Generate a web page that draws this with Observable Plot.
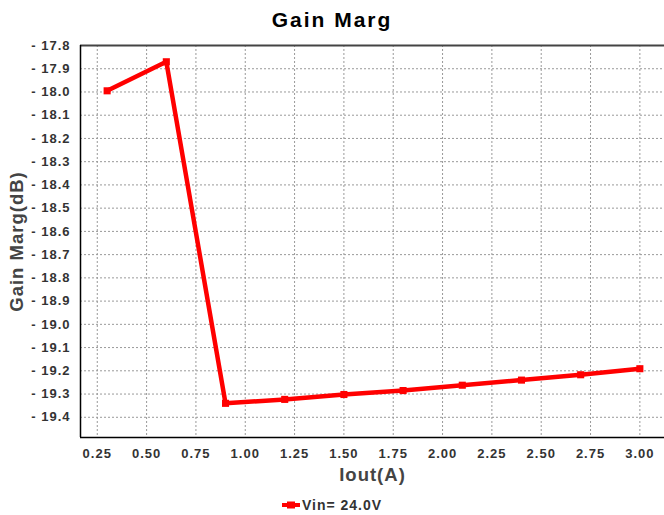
<!DOCTYPE html>
<html>
<head>
<meta charset="utf-8">
<script src="https://cdn.jsdelivr.net/npm/d3@7"></script>
<script src="https://cdn.jsdelivr.net/npm/@observablehq/plot@0.6"></script>
<style>
  html, body { margin: 0; padding: 0; background: #fff; overflow: hidden; }
  body { width: 664px; height: 515px; font-family: "Liberation Sans", Arial, sans-serif; }
  #title { width: 664px; height: 40px; line-height: 40px; text-align: center; font-size: 21px; font-weight: bold; letter-spacing: 2px; color: #000; }
  #chart svg { display: block; overflow: visible; }
  #chart svg text { letter-spacing: 1px; }
  #chart svg g[aria-label="axis-label"] text { letter-spacing: 2.2px; }
  #legend { width: 664px; height: 25px; display: flex; justify-content: center; align-items: center; padding-top: 2px; font-size: 14px; font-weight: bold; color: #333; letter-spacing: 1px; }
  #legend svg { margin-right: 2px; }
</style>
</head>
<body>
<div id="title">Gain Marg</div>
<div id="chart"></div>
<div id="legend"></div>
<script>
const seriesName = "Vin= 24.0V";
const iout = [0.3, 0.6, 0.9, 1.2, 1.5, 1.8, 2.1, 2.4, 2.7, 3.0];
const gain = [-17.995, -17.870, -19.340, -19.323, -19.302, -19.285, -19.262, -19.240, -19.217, -19.191];
const xTicks = [0.25, 0.5, 0.75, 1.0, 1.25, 1.5, 1.75, 2.0, 2.25, 2.5, 2.75, 3.0];
const yTicks = [-17.8, -17.9, -18.0, -18.1, -18.2, -18.3, -18.4, -18.5, -18.6, -18.7, -18.8, -18.9, -19.0, -19.1, -19.2, -19.3, -19.4];
const xDomain = [0.165, 3.135];
const yDomain = [-19.487, -17.8];
const xLabel = "Iout(A)";
const yLabel = "Gain Marg(dB)";

const data = iout.map((x, i) => ({x, y: gain[i]}));
const red = "#ff0000";

const chart = Plot.plot({
  width: 664,
  height: 450,
  marginLeft: 80,
  marginRight: 0,
  marginTop: 5,
  marginBottom: 53,
  style: {fontFamily: "'Liberation Sans', Arial, sans-serif", fontSize: "13px", fontWeight: "bold", color: "#333", background: "transparent"},
  x: {domain: xDomain, range: [80, 666], ticks: xTicks, tickFormat: d => d.toFixed(2), tickSize: 0, tickPadding: 11, label: null},
  y: {domain: yDomain, ticks: yTicks, tickFormat: d => "- " + Math.abs(d).toFixed(1), tickSize: 0, tickPadding: 10, label: null},
  marks: [
    Plot.ruleY(yTicks, {stroke: "#999", strokeWidth: 1, strokeDasharray: "2,2"}),
    Plot.ruleX(xTicks, {stroke: "#999", strokeWidth: 1, strokeDasharray: "2,2"}),
    Plot.ruleY([yDomain[1]], {stroke: "#444", strokeWidth: 2}),
    Plot.ruleY([yDomain[0]], {stroke: "#000", strokeWidth: 1.5}),
    Plot.ruleX([xDomain[0]], {stroke: "#000", strokeWidth: 1.5}),
    Plot.line(data, {x: "x", y: "y", stroke: red, strokeWidth: 4.5, strokeLinejoin: "miter"}),
    Plot.dot(data, {x: "x", y: "y", symbol: "square", r: 4, fill: red, stroke: "none"}),
    Plot.text([xLabel], {frameAnchor: "bottom", dy: 38, textAnchor: "middle", lineAnchor: "middle", fontSize: 18.5, fontWeight: "bold", fill: "#444", ariaLabel: "axis-label"}),
    Plot.text([yLabel], {frameAnchor: "left", dx: -63, rotate: -90, textAnchor: "middle", lineAnchor: "middle", fontSize: 18.5, fontWeight: "bold", fill: "#444", ariaLabel: "axis-label"})
  ]
});
document.getElementById("chart").appendChild(chart);

// Legend
const legend = document.getElementById("legend");
const sw = d3.create("svg").attr("width", 18).attr("height", 10);
sw.append("line").attr("x1", 0).attr("x2", 18).attr("y1", 5).attr("y2", 5).attr("stroke", red).attr("stroke-width", 4);
sw.append("rect").attr("x", 5).attr("y", 1.5).attr("width", 8).attr("height", 7).attr("fill", red);
legend.appendChild(sw.node());
const lt = document.createElement("span");
lt.textContent = seriesName;
legend.appendChild(lt);
</script>
</body>
</html>
